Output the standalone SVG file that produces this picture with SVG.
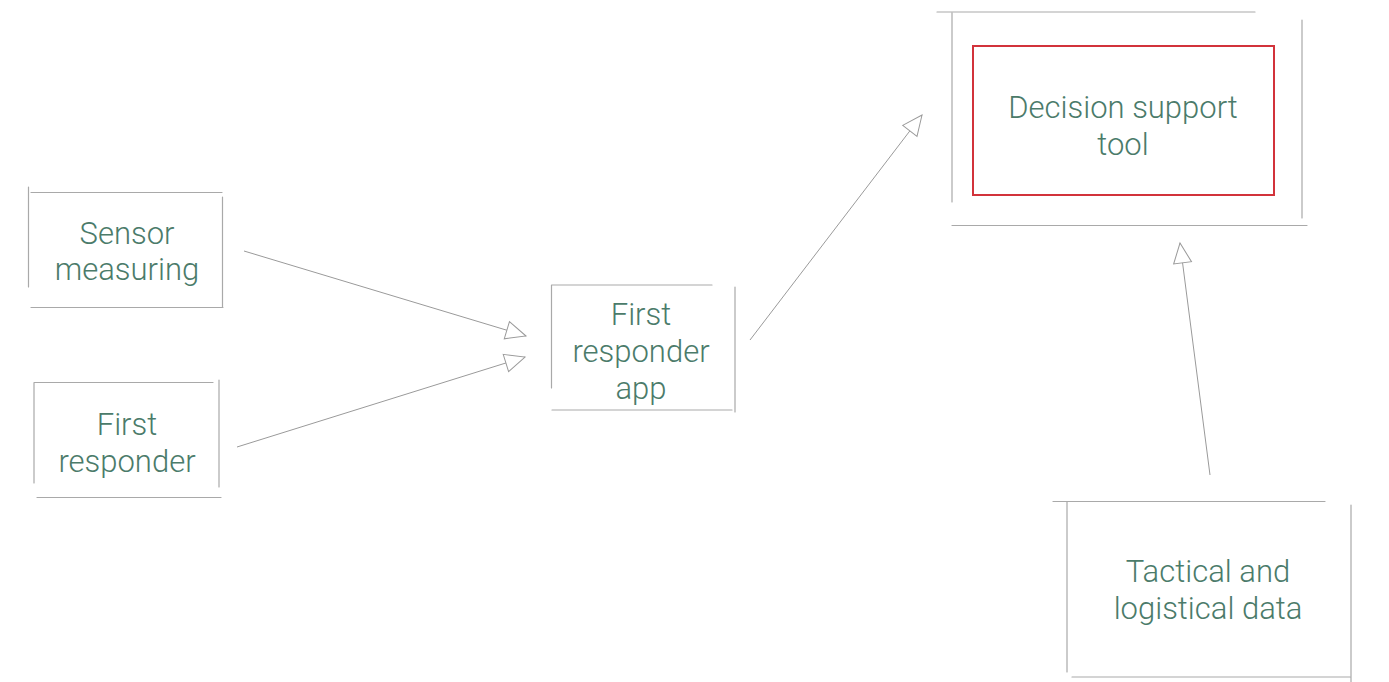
<svg xmlns="http://www.w3.org/2000/svg" width="1389" height="682" viewBox="0 0 1389 682">
<style>
.e{stroke:#a9a9a9;stroke-width:1.2;fill:none;stroke-linecap:round}
.t{font-family:Roboto,"Liberation Sans",sans-serif;font-weight:300;font-size:31px;fill:#4b7b6a;text-anchor:middle}
.c{stroke:#9a9a9a;stroke-width:1;fill:none;marker-end:url(#ah)}
</style>
<defs>
<marker id="ah" markerUnits="userSpaceOnUse" markerWidth="24" markerHeight="24" refX="20" refY="9" orient="auto" overflow="visible">
<path d="M0,0 L20,9 L0,18 Z" fill="#fff" stroke="#9a9a9a" stroke-width="1"/>
</marker>
</defs>
<rect width="1389" height="682" fill="#fff"/>
<g id="connectors">
<path class="c" d="M244,251 L526,336"/>
<path class="c" d="M237,447 L525,357"/>
<path class="c" d="M750,340 L922,115"/>
<path class="c" d="M1210,475 L1180,243"/>
</g>
<g id="sensor">
<path class="e" d="M31,192.5 H222 M28.5,187 V287 M222.5,197 V307 M31,307.5 H223"/>
<text class="t" x="127" y="244">Sensor</text>
<text class="t" x="127" y="280">measuring</text>
</g>
<g id="first-responder">
<path class="e" d="M34,382.5 H213 M34,383 V483 M219,380 V487 M37,497.5 H221"/>
<text class="t" x="127" y="435">First</text>
<text class="t" x="127" y="472">responder</text>
</g>
<g id="app">
<path class="e" d="M552,285 H712 M551.5,285 V388 M735,287 V412 M552,410 H732"/>
<text class="t" x="641" y="325">First</text>
<text class="t" x="641" y="362">responder</text>
<text class="t" x="641" y="399">app</text>
</g>
<g id="decision">
<path class="e" d="M937,12 H1255 M952,13 V202 M1302,20 V218 M952,225.5 H1307"/>
<rect x="973" y="46" width="301" height="149" fill="none" stroke="#d2333b" stroke-width="2"/>
<text class="t" x="1123" y="118">Decision support</text>
<text class="t" x="1123" y="155">tool</text>
</g>
<g id="tactical">
<path class="e" d="M1053,501.5 H1325 M1067,502 V672 M1351,505 V682 M1072,677 H1350"/>
<text class="t" x="1208" y="582">Tactical and</text>
<text class="t" x="1208" y="619">logistical data</text>
</g>
</svg>
